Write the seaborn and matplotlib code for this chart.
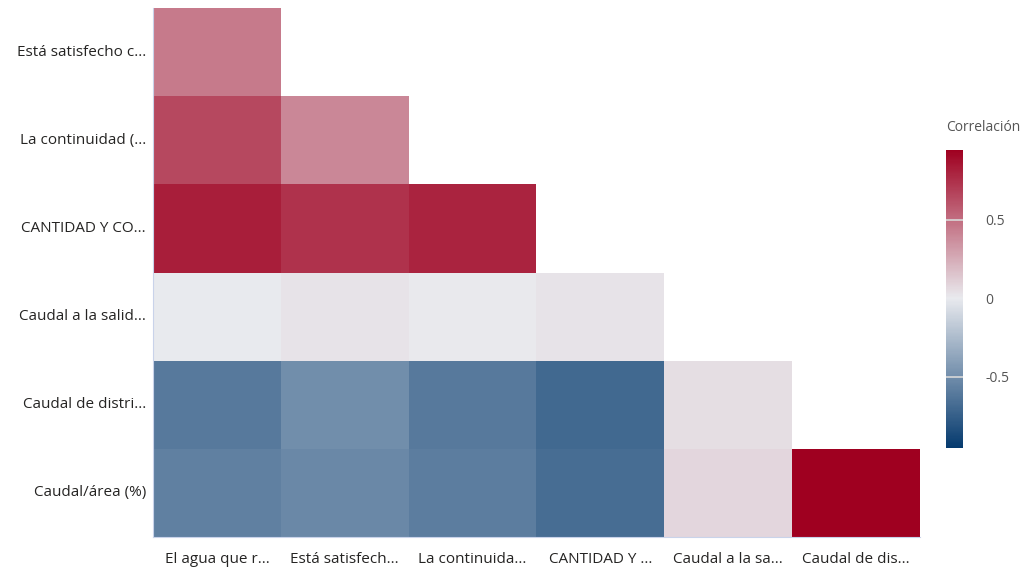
import matplotlib
matplotlib.use("Agg")
import matplotlib.pyplot as plt
from matplotlib.colors import LinearSegmentedColormap
import seaborn as sns
import numpy as np
import pandas as pd

row_labels = ["Está satisfecho c...", "La continuidad (...", "CANTIDAD Y CO...",
              "Caudal a la salid...", "Caudal de distri...", "Caudal/área (%)"]
col_labels = ["El agua que r...", "Está satisfech...", "La continuida...",
              "CANTIDAD Y ...", "Caudal a la sa...", "Caudal de dis..."]

# lower-triangular correlations (NaN = hidden)
row_esta = [0.45, np.nan, np.nan, np.nan, np.nan, np.nan]
row_continuidad = [0.65, 0.40, np.nan, np.nan, np.nan, np.nan]
row_cantidad = [0.82, 0.74, 0.80, np.nan, np.nan, np.nan]
row_caudal_salida = [0.00, 0.03, 0.005, 0.03, np.nan, np.nan]
row_caudal_distri = [-0.61, -0.50, -0.61, -0.70, 0.05, np.nan]
row_caudal_area = [-0.575, -0.525, -0.59, -0.675, 0.08, 0.943]

vmin, vmax = -0.955, 0.943

df = pd.DataFrame([row_esta, row_continuidad, row_cantidad, row_caudal_salida,
                   row_caudal_distri, row_caudal_area],
                  index=row_labels, columns=col_labels)

mid = -vmin / (vmax - vmin)
cmap = LinearSegmentedColormap.from_list(
    "corr", [(0.0, "#053a6e"), (mid, "#e9eaee"), (1.0, "#9f0020")])

sns.set_style("white")
plt.rcParams["font.family"] = ["Open Sans", "DejaVu Sans"]
text_color = "#252423"

fig = plt.figure(figsize=(10.3, 5.71), dpi=100)
ax = fig.add_axes([0.1485, 0.0595, 0.7447, 0.9265])
cax = fig.add_axes([0.9184, 0.2154, 0.0165, 0.5219])

sns.heatmap(df, ax=ax, cmap=cmap, vmin=vmin, vmax=vmax, mask=df.isna(),
            cbar_ax=cax, linewidths=0)

ax.tick_params(axis="y", length=0, labelsize=11, colors=text_color, pad=5)
ax.tick_params(axis="x", length=0, labelsize=11, colors=text_color, pad=11)
ax.set_yticklabels(row_labels, rotation=0)
ax.set_xticklabels(col_labels, rotation=0)
ax.set_xlabel("")
ax.set_ylabel("")
for side in ["left", "bottom"]:
    ax.spines[side].set_visible(True)
    ax.spines[side].set_color("#c9d3ea")
    ax.spines[side].set_linewidth(0.8)

cbar = ax.collections[0].colorbar
cbar.outline.set_visible(False)
cbar.set_ticks([-0.5, 0, 0.5])
cbar.set_ticklabels(["-0.5", "0", "0.5"])
cax.tick_params(length=0, labelsize=10, colors="#555555", pad=16)
for t in [-0.5, 0.5]:
    cax.axhline(t, color="#d8d8d8", linewidth=1.2)
cax.text(0.0, 1.05, "Correlación", transform=cax.transAxes, ha="left",
         va="bottom", fontsize=10, color="#555555")

fig.savefig("out.png", dpi=100)
